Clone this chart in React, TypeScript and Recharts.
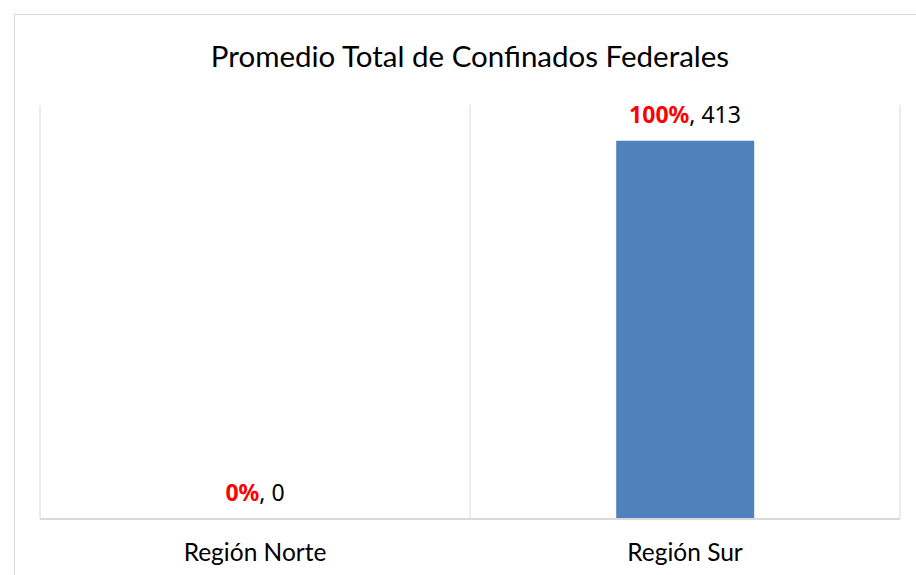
import { ComposedChart, Bar, Line, XAxis, YAxis, CartesianGrid } from "recharts"

const regions = ["Región Norte", "Región Sur"]
const confinados = [0, 413]
const porcentajes = ["0%", "100%"]

const data = regions.map((region, i) => ({
  region,
  total: confinados[i],
  etiqueta: `${porcentajes[i]}|${confinados[i]}`,
}))

const FONT = "Lato, 'Open Sans', sans-serif"
const LABEL_FONT = "'Noto Sans', 'Open Sans', sans-serif"

const ValueLabel = (props: any) => {
  const { x, y, index } = props
  const [pct, val] = data[index].etiqueta.split("|")
  return (
    <text
      x={x}
      y={y - 27}
      textAnchor="middle"
      dominantBaseline="central"
      fontFamily={LABEL_FONT}
      fontSize={23}
    >
      <tspan fill="#ff0000" fontWeight="bold">{pct}</tspan>
      <tspan fill="#000000">, {val}</tspan>
    </text>
  )
}

export default function App() {
  return (
    <div style={{ position: "absolute", left: 0, top: 0, width: 916, height: 575, background: "#fff", overflow: "hidden" }}>
      <div
        style={{
          position: "absolute",
          left: 14,
          top: 14,
          width: 920,
          height: 580,
          border: "1px solid #d9d9d9",
        }}
      />
      <div
        style={{
          position: "absolute",
          left: 0,
          width: 940,
          top: 38,
          textAlign: "center",
          fontFamily: FONT,
          fontSize: 29.5,
          color: "#000",
        }}
      >
        Promedio Total de Confinados Federales
      </div>
      <div style={{ position: "absolute", left: 0, top: 0 }}>
        <ComposedChart
          width={916}
          height={575}
          data={data}
          margin={{ top: 105, right: 16, left: 40, bottom: 0 }}
          barCategoryGap="34%"
        >
          <CartesianGrid
            horizontal={false}
            stroke="#d9d9d9"
            strokeWidth={1}
            verticalCoordinatesGenerator={({ offset }: any) => [
              offset.left,
              offset.left + offset.width / 2,
              offset.left + offset.width,
            ]}
          />
          <XAxis
            dataKey="region"
            height={56}
            axisLine={{ stroke: "#d9d9d9", strokeWidth: 2 }}
            tickLine={false}
            tick={{ fill: "#000", fontFamily: FONT, fontSize: 24.5 }}
            tickMargin={19}
          />
          <YAxis hide domain={[0, 452]} />
          <Bar dataKey="total" fill="#4f81bd" isAnimationActive={false} />
          <Line
            dataKey="total"
            stroke="none"
            dot={false}
            activeDot={false}
            isAnimationActive={false}
            label={<ValueLabel />}
          />
        </ComposedChart>
      </div>
    </div>
  )
}
